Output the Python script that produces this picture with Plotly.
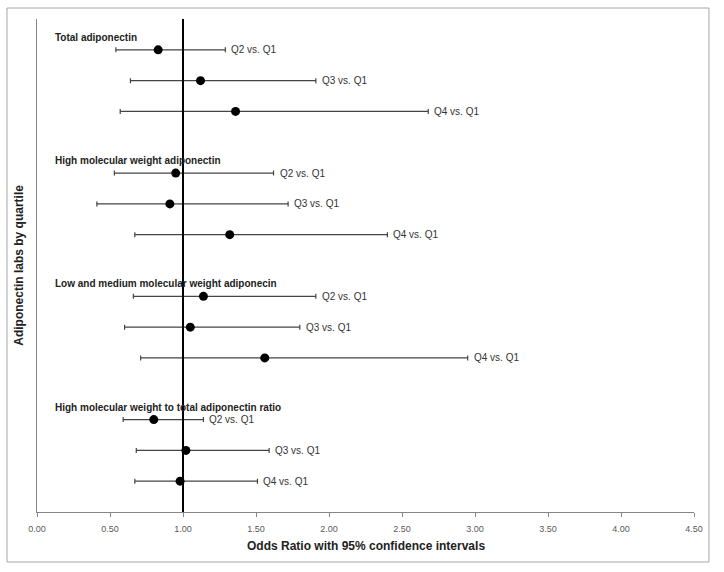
import plotly.graph_objects as go

groups = [
    "Total adiponectin",
    "High molecular weight adiponectin",
    "Low and medium molecular weight adiponecin",
    "High molecular weight to total adiponectin ratio",
]
comparisons = ["Q2 vs. Q1", "Q3 vs. Q1", "Q4 vs. Q1"]

odds_ratio = [
    [0.83, 1.12, 1.36],
    [0.95, 0.91, 1.32],
    [1.14, 1.05, 1.56],
    [0.80, 1.02, 0.98],
]
ci_lower = [
    [0.54, 0.64, 0.57],
    [0.53, 0.41, 0.67],
    [0.66, 0.60, 0.71],
    [0.59, 0.68, 0.67],
]
ci_upper = [
    [1.29, 1.91, 2.68],
    [1.62, 1.72, 2.40],
    [1.91, 1.80, 2.95],
    [1.14, 1.59, 1.51],
]
x_ticks = [0.0, 0.5, 1.0, 1.5, 2.0, 2.5, 3.0, 3.5, 4.0, 4.5]

FONT = "Liberation Sans, Arial, sans-serif"

xs, ys, lo, hi, labels, ups = [], [], [], [], [], []
header_rows = []
for g, name in enumerate(groups):
    header_rows.append(g * 4 + 0.6)
    for q in range(3):
        row = g * 4 + q + 1
        xs.append(odds_ratio[g][q])
        ys.append(row)
        lo.append(odds_ratio[g][q] - ci_lower[g][q])
        hi.append(ci_upper[g][q] - odds_ratio[g][q])
        labels.append(comparisons[q])
        ups.append(ci_upper[g][q])

fig = go.Figure()
fig.add_trace(go.Scatter(
    x=xs, y=ys, mode="markers",
    marker=dict(color="black", size=9),
    error_x=dict(type="data", symmetric=False, array=hi, arrayminus=lo,
                 color="#444444", thickness=1.2, width=2.5),
    showlegend=False, hoverinfo="skip",
))

for u, y, t in zip(ups, ys, labels):
    fig.add_annotation(
        x=u, y=y, xref="x", yref="y", text=t, showarrow=False,
        xanchor="left", yanchor="middle", xshift=4,
        font=dict(family=FONT, size=10, color="#333333"),
    )

for name, r in zip(groups, header_rows):
    fig.add_annotation(
        x=16 / 657, xref="paper", y=r, yref="y", text="<b>" + name + "</b>",
        showarrow=False, xanchor="left", yanchor="middle",
        font=dict(family=FONT, size=10, color="#222222"),
    )

# axis titles
fig.add_annotation(
    x=0.5, xref="paper", y=-0.068, yref="paper",
    text="<b>Odds Ratio with 95% confidence intervals</b>", showarrow=False,
    xanchor="center", yanchor="middle",
    font=dict(family=FONT, size=12, color="#222222"),
)
fig.add_annotation(
    x=-0.0285, xref="paper", y=0.5, yref="paper", textangle=-90,
    text="<b>Adiponectin labs by quartile</b>", showarrow=False,
    xanchor="center", yanchor="middle",
    font=dict(family=FONT, size=12, color="#222222"),
)

# reference line at OR = 1
fig.add_shape(type="line", x0=1, x1=1, xref="x", y0=0, y1=1, yref="paper",
              line=dict(color="black", width=2))
# outer frame
fig.add_shape(type="rect", xref="paper", yref="paper",
              x0=-0.0457, x1=1.0228, y0=-0.1014, y1=1.0223,
              line=dict(color="#a6a6a6", width=1))

fig.update_layout(
    width=724, height=572,
    margin=dict(l=37, r=30, t=19, b=60, autoexpand=False),
    paper_bgcolor="white", plot_bgcolor="white",
    font=dict(family=FONT),
    xaxis=dict(
        range=[0, 4.5], tickvals=x_ticks, tickformat=".2f", automargin=False,
        showgrid=False, zeroline=False,
        showline=True, linecolor="#868686", linewidth=1,
        ticks="outside", ticklen=4, tickcolor="#868686",
        ticklabelstandoff=4,
        tickfont=dict(family=FONT, size=9, color="#595959"),
    ),
    yaxis=dict(
        range=[16, 0], showticklabels=False, showgrid=False, zeroline=False,
        automargin=False,
        showline=True, linecolor="#868686", linewidth=1, ticks="",
    ),
)

fig.write_html("out.html", config={"displayModeBar": False},
               post_script="document.body.style.margin='0';document.body.style.overflow='hidden';")
